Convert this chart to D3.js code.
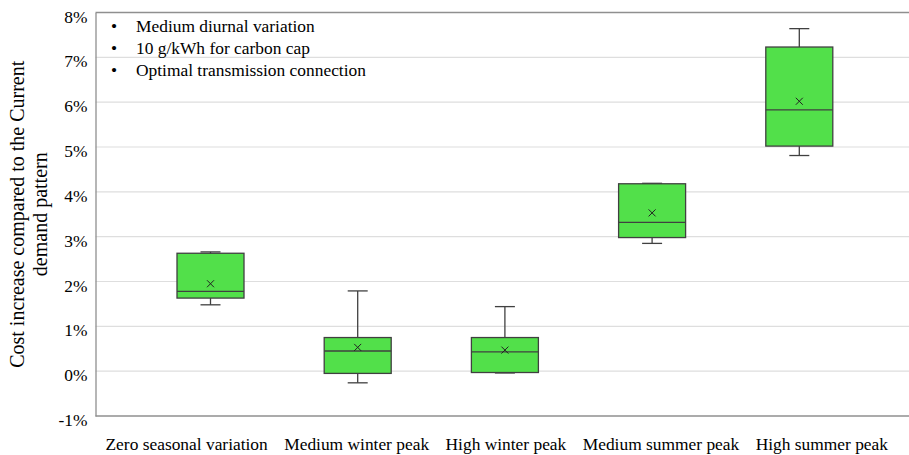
<!DOCTYPE html>
<html>
<head>
<meta charset="utf-8">
<script src="https://cdn.jsdelivr.net/npm/d3@7"></script>
<style>
  body { margin: 0; background: #fff; }
  svg text { font-family: "Liberation Serif", "Times New Roman", Times, serif; fill: #000; }
</style>
</head>
<body>
<div id="chart"></div>
<script>
// data (percent)
const categories = ["Zero seasonal variation", "Medium winter peak", "High winter peak", "Medium summer peak", "High summer peak"];
const minValues = [1.48, -0.26, -0.04, 2.85, 4.81];
const q1Values = [1.63, -0.05, -0.03, 2.98, 5.02];
const medianValues = [1.78, 0.45, 0.43, 3.32, 5.83];
const q3Values = [2.63, 0.75, 0.75, 4.18, 7.23];
const maxValues = [2.66, 1.79, 1.44, 4.19, 7.64];
const meanValues = [1.95, 0.53, 0.47, 3.53, 6.02];
const yTicks = [-1, 0, 1, 2, 3, 4, 5, 6, 7, 8];
const notes = ["Medium diurnal variation", "10 g/kWh for carbon cap", "Optimal transmission connection"];

const width = 909;
const height = 455;
const marginLeft = 95.5;
const marginRight = 0;
const marginTop = 12.5;
const marginBottom = 39;

const boxes = categories.map((c, i) => ({
  category: c,
  min: minValues[i],
  q1: q1Values[i],
  median: medianValues[i],
  q3: q3Values[i],
  max: maxValues[i],
  mean: meanValues[i]
}));

// scales
const yScale = d3.scaleLinear()
  .domain([-1, 8])
  .range([height - marginBottom, marginTop]);

const xBox = d3.scalePoint()
  .domain(categories)
  .range([210.5, 799.3]);

const boxWidth = 67;
const capWidth = 20;

const svg = d3.select("#chart")
  .append("svg")
  .attr("width", width)
  .attr("height", height);

// gridlines
svg.append("g")
  .selectAll("line")
  .data(yTicks.filter(d => d !== -1 && d !== 8))
  .join("line")
  .attr("x1", marginLeft)
  .attr("x2", width - marginRight)
  .attr("y1", d => yScale(d))
  .attr("y2", d => yScale(d))
  .attr("stroke", "#dedede")
  .attr("stroke-width", 1.2);

// top border
svg.append("line")
  .attr("x1", marginLeft)
  .attr("x2", width)
  .attr("y1", yScale(8))
  .attr("y2", yScale(8))
  .attr("stroke", "#8f8f8f")
  .attr("stroke-width", 1.3);

// y axis
const yAxis = d3.axisLeft(yScale)
  .tickValues(yTicks)
  .tickSize(0)
  .tickPadding(8)
  .tickFormat(d => d + "%");

svg.append("g")
  .attr("transform", `translate(${marginLeft},0)`)
  .call(yAxis)
  .attr("font-family", null)
  .call(g => g.select(".domain").attr("stroke", "#8f8f8f").attr("stroke-width", 1.3))
  .call(g => g.selectAll("text")
    .attr("font-size", "17.4px")
    .attr("dy", "0.55em"));

// x axis (labels only), spread with equal gaps like the original
const xAxis = d3.axisBottom(xBox).tickSize(0).tickPadding(22);

const xg = svg.append("g")
  .attr("transform", `translate(0,${yScale(-1)})`)
  .call(xAxis)
  .attr("font-family", null)
  .call(g => g.select(".domain").remove())
  .call(g => g.selectAll("text").attr("font-size", "17.4px"));

const labelStart = marginLeft + 10;
const labelEnd = width - 21;
const ticks = xg.selectAll(".tick");
const widths = ticks.select("text").nodes().map(n => n.getComputedTextLength());
const gap = (labelEnd - labelStart - d3.sum(widths)) / (widths.length - 1);
let cursor = labelStart;
ticks.attr("transform", (d, i) => {
  const cx = cursor + widths[i] / 2;
  cursor += widths[i] + gap;
  return `translate(${cx},0)`;
});

svg.append("line")
  .attr("x1", marginLeft)
  .attr("x2", width)
  .attr("y1", yScale(-1))
  .attr("y2", yScale(-1))
  .attr("stroke", "#8f8f8f")
  .attr("stroke-width", 1.3);

// y title
svg.append("text")
  .attr("transform", `translate(24,${yScale(3.5)}) rotate(-90)`)
  .attr("text-anchor", "middle")
  .attr("font-size", "20px")
  .text("Cost increase compared to the Current");

svg.append("text")
  .attr("transform", `translate(47,${yScale(3.5)}) rotate(-90)`)
  .attr("text-anchor", "middle")
  .attr("font-size", "20px")
  .text("demand pattern");

// boxes
const stroke = "#404040";
const box = svg.append("g")
  .selectAll("g")
  .data(boxes)
  .join("g");

box.append("line")
  .attr("x1", d => xBox(d.category))
  .attr("x2", d => xBox(d.category))
  .attr("y1", d => yScale(d.max))
  .attr("y2", d => yScale(d.min))
  .attr("stroke", stroke)
  .attr("stroke-width", 1.3);

box.selectAll(".cap")
  .data(d => [d.min, d.max].map(v => ({ c: d.category, v })))
  .join("line")
  .attr("class", "cap")
  .attr("x1", d => xBox(d.c) - capWidth / 2)
  .attr("x2", d => xBox(d.c) + capWidth / 2)
  .attr("y1", d => yScale(d.v))
  .attr("y2", d => yScale(d.v))
  .attr("stroke", stroke)
  .attr("stroke-width", 1.3);

box.append("rect")
  .attr("x", d => xBox(d.category) - boxWidth / 2)
  .attr("width", boxWidth)
  .attr("y", d => yScale(d.q3))
  .attr("height", d => yScale(d.q1) - yScale(d.q3))
  .attr("fill", "#52e04a")
  .attr("stroke", stroke)
  .attr("stroke-width", 1.3);

box.append("line")
  .attr("x1", d => xBox(d.category) - boxWidth / 2)
  .attr("x2", d => xBox(d.category) + boxWidth / 2)
  .attr("y1", d => yScale(d.median))
  .attr("y2", d => yScale(d.median))
  .attr("stroke", stroke)
  .attr("stroke-width", 1.3);

// mean markers
box.append("path")
  .attr("transform", d => `translate(${xBox(d.category)},${yScale(d.mean)})`)
  .attr("d", "M-3.5,-3.5L3.5,3.5M-3.5,3.5L3.5,-3.5")
  .attr("stroke", "#222")
  .attr("stroke-width", 1);

// notes
const note = svg.append("g")
  .selectAll("g")
  .data(notes)
  .join("g")
  .attr("transform", (d, i) => `translate(0,${32 + i * 22})`);

note.append("text")
  .attr("x", 111)
  .attr("font-size", "17.4px")
  .text("•");

note.append("text")
  .attr("x", 136)
  .attr("font-size", "17.4px")
  .text(d => d);
</script>
</body>
</html>
